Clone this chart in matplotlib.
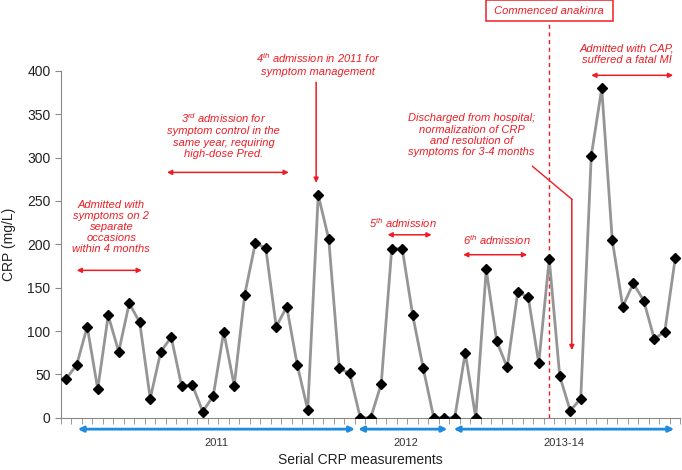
import matplotlib
matplotlib.use("Agg")
import matplotlib.pyplot as plt
import numpy as np

plt.rcParams['font.family'] = ['Liberation Sans', 'DejaVu Sans']
plt.rcParams['mathtext.fontset'] = 'custom'
plt.rcParams['mathtext.it'] = 'Liberation Sans:italic'
plt.rcParams['mathtext.rm'] = 'Liberation Sans:italic'

crp = [45, 61, 105, 33, 118, 76, 132, 110, 22, 76,
       93, 36, 38, 7, 25, 99, 37, 142, 201, 196,
       105, 128, 61, 9, 257, 206, 57, 51, 0, 0,
       39, 195, 195, 118, 57, 0, 0, 0, 75, 0,
       171, 88, 58, 145, 139, 63, 183, 48, 8, 22,
       302, 380, 205, 128, 155, 135, 91, 99, 184]
yticks = [0, 50, 100, 150, 200, 250, 300, 350, 400]
periods = ['2011', '2012', '2013-14']
period_spans = [(1.1, 27.5), (27.8, 36.3), (36.9, 57.9)]
period_label_x = [14.3, 32.3, 47.4]
anakinra_idx = 46

red = '#ee1c24'
blue = '#1f8be0'

fig = plt.figure(figsize=(6.82, 4.70), dpi=100)
ax = fig.add_axes([0.0894, 0.1113, 0.9084, 0.7377])

x = np.arange(len(crp))
ax.plot(x, crp, color='#959595', lw=2.0, zorder=3)
ax.plot(x, crp, linestyle='none', marker='D', ms=4.8, color='black', zorder=4)

ax.set_xlim(-0.5, len(crp) - 0.5)
ax.set_ylim(0, 400)
ax.set_yticks(yticks)
ax.set_xticks([])
ax.set_xticks(np.arange(-0.5, len(crp), 1), minor=True)
ax.tick_params(axis='y', labelsize=10, length=4, color='#888888', labelcolor='#222222')
ax.tick_params(axis='x', which='minor', length=4, color='#888888')
for s in ['top', 'right']:
    ax.spines[s].set_visible(False)
for s in ['left', 'bottom']:
    ax.spines[s].set_color('#888888')

ax.set_ylabel('CRP (mg/L)', fontsize=10, color='#222222')
ax.yaxis.set_label_coords(-0.072, 0.5)
ax.set_xlabel('Serial CRP measurements', fontsize=10, color='#222222')
ax.xaxis.set_label_coords(0.483, -0.102)

# period arrows under the axis
tr = ax.get_xaxis_transform()
for (a, b), lab, lx in zip(period_spans, periods, period_label_x):
    ax.annotate('', xy=(a, -0.033), xytext=(b, -0.033), xycoords=tr, textcoords=tr,
                arrowprops=dict(arrowstyle='<|-|>', color=blue, lw=2.0,
                                mutation_scale=8, shrinkA=0, shrinkB=0),
                annotation_clip=False)
    ax.text(lx, -0.073, lab, transform=tr, ha='center', va='center',
            fontsize=8, color='#333333')


def harrow(x0, x1, y):
    ax.annotate('', xy=(x0, y), xytext=(x1, y),
                arrowprops=dict(arrowstyle='<|-|>', color=red, lw=1.1,
                                mutation_scale=7, shrinkA=0, shrinkB=0),
                annotation_clip=False)


def note(xc, yc, s):
    ax.text(xc, yc, s, ha='center', va='center', fontsize=8, style='italic',
            color=red, linespacing=1.15, clip_on=False)


note(4.3, 220, 'Admitted with\nsymptoms on 2\nseparate\noccasions\nwithin 4 months')
harrow(1.0, 7.2, 170)

note(15.0, 326, '3$^{rd}$ admission for\nsymptom control in the\nsame year, requiring\nhigh-dose Pred.')
harrow(9.6, 21.2, 283)

note(24.0, 408, '4$^{th}$ admission in 2011 for\nsymptom management')
ax.annotate('', xy=(23.8, 271), xytext=(23.8, 387),
            arrowprops=dict(arrowstyle='-|>', color=red, lw=1.1,
                            mutation_scale=7, shrinkA=0, shrinkB=0))

note(32.1, 225, '5$^{th}$ admission')
harrow(30.6, 34.8, 211)

note(41.0, 205, '6$^{th}$ admission')
harrow(37.8, 43.9, 188)

note(38.6, 326, 'Discharged from hospital;\nnormalization of CRP\nand resolution of\nsymptoms for 3-4 months')
ax.plot([44.4, 48.15], [290, 252], color=red, lw=1.0)
ax.annotate('', xy=(48.15, 78), xytext=(48.15, 252),
            arrowprops=dict(arrowstyle='-|>', color=red, lw=1.1,
                            mutation_scale=7, shrinkA=0, shrinkB=0))

note(53.4, 419, 'Admitted with CAP,\nsuffered a fatal MI')
harrow(50.0, 57.8, 395)

# anakinra start
ax.plot([anakinra_idx, anakinra_idx], [0, 457], color=red, lw=1.0,
        linestyle=(0, (3, 2.5)), clip_on=False, zorder=2)
ax.text(anakinra_idx, 469.5, ' Commenced anakinra ', ha='center', va='center',
        fontsize=8, style='italic', color=red, clip_on=False,
        bbox=dict(boxstyle='square,pad=0.5', fc='white', ec=red, lw=1.1))

fig.savefig('out.png', dpi=100)
